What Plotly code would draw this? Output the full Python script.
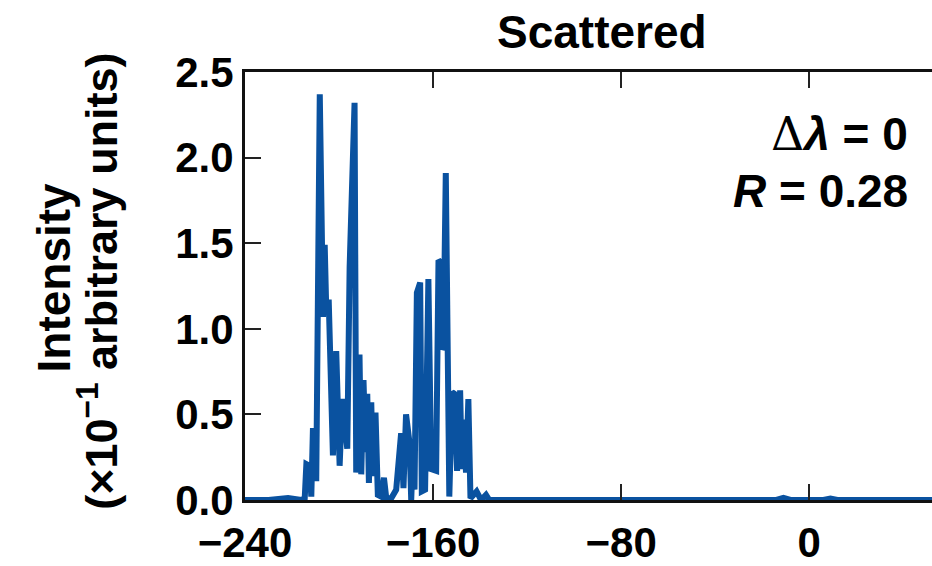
import plotly.graph_objects as go

# Spectrum
x_vals = [-240, -230, -221.7, -216, -214.6, -213.9, -212.5, -211.8, -211.1, -209.7,
          -208.2, -206.8, -206.1, -205.4, -204.4, -202.6, -201.2, -199.75, -198.6,
          -197.6, -196.5, -195.5, -193.4, -192.7, -191.3, -190.55, -189.6, -188.7,
          -188.0, -187.3, -186.3, -185.6, -184.5, -183.5, -182.1, -180.9, -179.9,
          -177.8, -175.7, -173.6, -172.6, -171.5, -170.0, -169.3, -168.6, -167.9,
          -166.9, -165.5, -164.8, -163.4, -162.0, -160.8, -159.4, -158.7, -157.7,
          -156.9, -156.3, -155.6, -154.6, -153.8, -153.1, -151.9, -150.9, -149.8,
          -148.5, -147.8, -147.0, -146.0, -145.0, -144.1, -142.45, -141.5, -139.6,
          -137.5, -136.1, -120, -60, -14, -11, -8, 6, 9, 12, 30, 55]
y_vals = [0.0, 0.0, 0.012, 0.0, 0.01, 0.21, 0.2, 0.02, 0.42, 0.11,
          2.37, 1.07, 1.49, 1.09, 1.17, 0.26, 0.87, 0.2, 0.59,
          0.41, 0.3, 1.36, 2.32, 0.16, 0.85, 0.15, 0.7, 0.28,
          0.62, 0.1, 0.57, 0.14, 0.51, 0.03, 0.02, 0.13, 0.01,
          0.01, 0.06, 0.39, 0.07, 0.5, 0.33, 0.0, 0.27, 0.06,
          1.21, 1.27, 0.05, 0.06, 1.29, 0.18, 0.17, 0.17, 1.40,
          1.39, 0.88, 0.9, 1.91, 0.6, 0.02, 0.63, 0.62, 0.17,
          0.64, 0.18, 0.47, 0.16, 0.59, 0.01, 0.04, 0.05, 0.0,
          0.03, 0.0, 0.0, 0.0, 0.0, 0.012, 0.0, 0.0, 0.008, 0.0, 0.0, 0.0]

x_ticks = [-240, -160, -80, 0]
y_ticks = [0.0, 0.5, 1.0, 1.5, 2.0, 2.5]
y_tick_text = ["0.0", "0.5", "1.0", "1.5", "2.0", "2.5"]

FONT = "Liberation Sans"
LINE = "#0a52a0"

fig = go.Figure()
fig.add_trace(go.Scatter(x=x_vals, y=y_vals, mode="lines",
                         line=dict(color=LINE, width=6), showlegend=False))

fig.update_layout(
    width=932, height=566,
    margin=dict(l=245, r=0, t=72, b=61),
    plot_bgcolor="white", paper_bgcolor="white",
    font=dict(family=FONT, size=42, color="black", weight="bold"),
    xaxis=dict(range=[-240, 52.2], tickvals=x_ticks, ticks="inside", ticklen=16,
               tickwidth=2, tickcolor="#222", showline=True, linecolor="#111",
               linewidth=3, mirror="ticks", showgrid=False, zeroline=False,
               ticklabelstandoff=4,
               tickfont=dict(family=FONT, size=42, weight="bold")),
    yaxis=dict(range=[0, 2.5], tickvals=y_ticks, ticktext=y_tick_text,
               ticks="inside", ticklen=16, tickwidth=2, tickcolor="#222",
               showline=True, linecolor="#111", linewidth=3, showgrid=False,
               zeroline=False, tickfont=dict(family=FONT, size=42, weight="bold")),
)

fig.add_annotation(text="Scattered", xref="paper", yref="paper",
                   x=0.52, y=1, yanchor="middle", yshift=40, showarrow=False,
                   font=dict(family=FONT, size=46, weight="bold"))
fig.add_annotation(text="Intensity",
                   xref="paper", yref="paper", x=(54 - 245) / 687, y=0.52,
                   xanchor="center", yanchor="middle", textangle=-90,
                   showarrow=False, font=dict(family=FONT, size=46, weight="bold"))
fig.add_annotation(text="(×10<sup>−1</sup> arbitrary units)",
                   xref="paper", yref="paper", x=(98 - 245) / 687, y=0.51,
                   xanchor="center", yanchor="middle", textangle=-90,
                   showarrow=False, font=dict(family=FONT, size=45, weight="bold"))
fig.add_annotation(text="<span style=\"font-family:'DejaVu Serif';font-weight:normal\">Δ</span><i>λ</i> = 0",
                   xref="paper", yref="paper",
                   x=0.968, y=0.855, xanchor="right", yanchor="middle",
                   showarrow=False, font=dict(family=FONT, size=46, weight="bold"))
fig.add_annotation(text="<i>R</i> = 0.28", xref="paper", yref="paper",
                   x=0.968, y=0.723, xanchor="right", yanchor="middle",
                   showarrow=False, font=dict(family=FONT, size=46, weight="bold"))

fig.write_html("out.html")
